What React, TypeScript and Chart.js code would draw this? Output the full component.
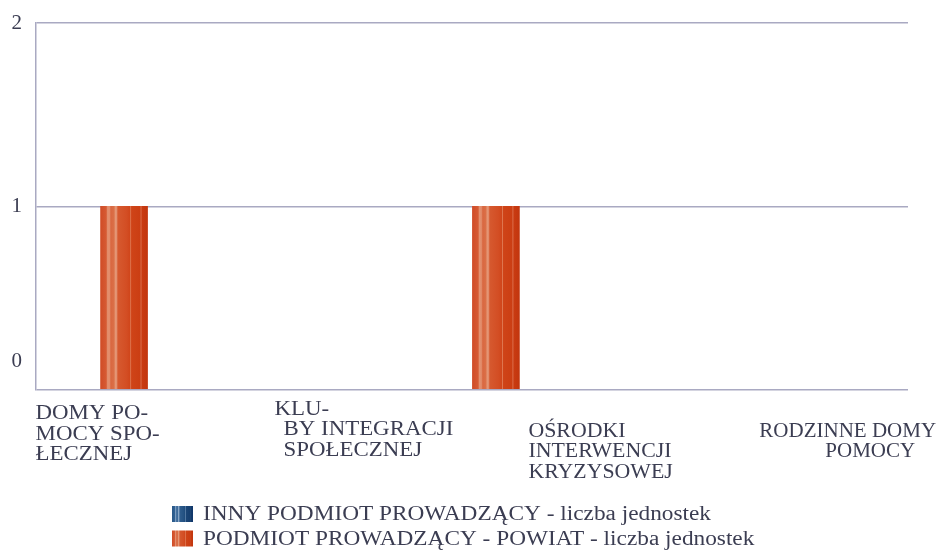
import React, { useEffect, useRef } from "react";
import { Chart, registerables } from "chart.js";

Chart.register(...registerables);

// ---------- data ----------
const categories = [
  "DOMY POMOCY SPOŁECZNEJ",
  "KLUBY INTEGRACJI SPOŁECZNEJ",
  "OŚRODKI INTERWENCJI KRYZYSOWEJ",
  "RODZINNE DOMY POMOCY",
];
const categoryLabelLines = [
  ["DOMY PO-", "MOCY SPO-", "ŁECZNEJ"],
  ["KLU-", "BY INTEGRACJI", "SPOŁECZNEJ"],
  ["OŚRODKI", "INTERWENCJI", "KRYZYSOWEJ"],
  ["RODZINNE DOMY", "POMOCY"],
];
const seriesInnyName = "INNY PODMIOT PROWADZĄCY - liczba jednostek";
const seriesPowiatName = "PODMIOT PROWADZĄCY - POWIAT - liczba jednostek";
const innyValues = [0, 0, 0, 0];
const powiatValues = [1, 0, 1, 0];
const yTickValues = [0, 1, 2];

// ---------- style ----------
const FONT_FAMILY = '"Liberation Serif", "Times New Roman", serif';
const TEXT_COLOR = "#3b3d52";
const GRID_COLOR = "#a9a9c2";
const BAR_W = 47;
const X_MIN = -0.6;
const X_MAX = 4.09;
const LABEL_FONT = 21;
const LABEL_LINE = 20.5;
const LABEL_LAYOUT = [
  { dy: 29.5, dx: [-112, -112, -112], sx: 1.09 },
  { dy: 25, dx: [-59, -50, -50], sx: 1.09 },
  { dy: 47, dx: [9, 9, 9], sx: 1.04 },
  { dy: 47, dx: [54, 120], sx: 1.0 },
];
const LEGEND = {
  x: 172,
  baseline: 520,
  step: 24.5,
  boxW: 21,
  boxH: 16,
  boxRise: 14,
  gap: 10,
  font: 20,
  stretch: 1.165,
};

type Stop = [number, string];
const ORANGE: Stop[] = [
  [0.0, "#d04c27"],
  [0.12, "#d65a33"],
  [0.15, "#e3906f"],
  [0.19, "#e28c6b"],
  [0.22, "#d96740"],
  [0.29, "#db7048"],
  [0.31, "#e69876"],
  [0.34, "#e29070"],
  [0.37, "#d6592f"],
  [0.55, "#d34e24"],
  [0.625, "#d0461b"],
  [0.64, "#de7650"],
  [0.66, "#cf4418"],
  [0.84, "#cb3e13"],
  [0.86, "#da6a46"],
  [0.885, "#c93b11"],
  [1.0, "#c2360e"],
];
const BLUE: Stop[] = [
  [0.0, "#2a5888"],
  [0.12, "#2f6092"],
  [0.15, "#7d9dc0"],
  [0.19, "#7898bb"],
  [0.22, "#3a6898"],
  [0.29, "#3f6c9b"],
  [0.31, "#8aa8c8"],
  [0.34, "#7f9ec0"],
  [0.37, "#2f5d8e"],
  [0.55, "#245283"],
  [0.625, "#1d4a7b"],
  [0.64, "#5a7fa8"],
  [0.66, "#1b4677"],
  [0.84, "#163f70"],
  [0.86, "#4c72a0"],
  [0.885, "#143c6c"],
  [1.0, "#10366a"],
];
const PALETTES = [ORANGE, BLUE]; // dataset 0 = powiat, dataset 1 = inny
const LEGEND_ORDER = [1, 0];

function stripes(ctx: CanvasRenderingContext2D, x0: number, w: number, stops: Stop[]) {
  const g = ctx.createLinearGradient(x0, 0, x0 + w, 0);
  stops.forEach(([o, c]) => g.addColorStop(o, c));
  return g;
}

function barColor(palette: Stop[]) {
  return (c: any) => {
    const xs = c.chart.scales && c.chart.scales.x;
    if (!xs || c.type !== "data" || c.dataIndex == null) return palette[9][1];
    if (c.raw && c.raw.y === 0) return "rgba(0,0,0,0)";
    const center = xs.getPixelForValue(c.dataIndex);
    if (!isFinite(center)) return palette[9][1];
    const left = c.datasetIndex === 0 ? center - BAR_W : center;
    return stripes(c.chart.ctx, left, BAR_W, palette);
  };
}

const textPlugin = {
  id: "customText",
  afterDraw(chart: any) {
    const ctx: CanvasRenderingContext2D = chart.ctx;
    const xs = chart.scales.x;
    const area = chart.chartArea;
    ctx.save();
    ctx.fillStyle = TEXT_COLOR;
    ctx.textAlign = "left";
    ctx.textBaseline = "alphabetic";
    ctx.font = `${LABEL_FONT}px ${FONT_FAMILY}`;
    categoryLabelLines.forEach((lines, i) => {
      const px = xs.getPixelForValue(i);
      const lay = LABEL_LAYOUT[i];
      lines.forEach((line, j) => {
        ctx.save();
        ctx.translate(px + lay.dx[j], area.bottom + lay.dy + j * LABEL_LINE);
        ctx.scale(lay.sx, 1);
        ctx.fillText(line, 0, 0);
        ctx.restore();
      });
    });
    LEGEND_ORDER.forEach((dsIndex, row) => {
      const ds = chart.data.datasets[dsIndex];
      const y = LEGEND.baseline + row * LEGEND.step;
      ctx.fillStyle = stripes(ctx, LEGEND.x, LEGEND.boxW, PALETTES[dsIndex]);
      ctx.fillRect(LEGEND.x, y - LEGEND.boxRise, LEGEND.boxW, LEGEND.boxH);
      ctx.fillStyle = TEXT_COLOR;
      ctx.font = `${LEGEND.font}px ${FONT_FAMILY}`;
      ctx.save();
      ctx.translate(LEGEND.x + LEGEND.boxW + LEGEND.gap, y);
      ctx.scale(LEGEND.stretch, 1);
      ctx.fillText(ds.label, 0, 0);
      ctx.restore();
    });
    ctx.restore();
  },
};

export default function App() {
  const ref = useRef<HTMLCanvasElement | null>(null);
  useEffect(() => {
    if (!ref.current) return;
    const chart = new Chart(ref.current, {
      type: "bar",
      data: {
        labels: categories,
        datasets: [
          {
            label: seriesPowiatName,
            data: powiatValues.map((v, i) => ({ x: i, y: v })),
            backgroundColor: barColor(ORANGE),
            borderWidth: 0,
            barThickness: BAR_W,
          },
          {
            label: seriesInnyName,
            data: innyValues.map((v, i) => ({ x: i, y: v })),
            backgroundColor: barColor(BLUE),
            borderWidth: 0,
            barThickness: BAR_W,
          },
        ],
      },
      plugins: [textPlugin],
      options: {
        animation: false,
        responsive: false,
        devicePixelRatio: 1,
        layout: { padding: { left: 0, right: 35, top: 23, bottom: 164.5 } },
        plugins: {
          legend: { display: false },
          tooltip: { enabled: false },
          title: { display: false },
        },
        scales: {
          x: {
            type: "linear",
            min: X_MIN,
            max: X_MAX,
            offset: false,
            ticks: { display: false },
            grid: { display: false, drawTicks: false },
            border: { display: false },
          },
          y: {
            min: 0,
            max: 2,
            afterBuildTicks: (s: any) => {
              s.ticks = yTickValues.map((v) => ({ value: v }));
            },
            afterFit: (s: any) => {
              s.width = 36;
            },
            ticks: {
              color: TEXT_COLOR,
              padding: 0,
              font: (c: any) => ({
                family: FONT_FAMILY,
                size: 21,
                lineHeight: c.tick && c.tick.value === 0 ? "57px" : 1.2,
              }),
              callback: (v: any) => (Number(v) === 0 ? ["0", ""] : String(v)),
            },
            grid: {
              color: GRID_COLOR,
              lineWidth: 1.5,
              drawTicks: true,
              tickLength: 14,
              tickColor: "rgba(0,0,0,0)",
            },
            border: { display: true, color: GRID_COLOR, width: 1.5 },
          },
        },
      },
    } as any);
    return () => chart.destroy();
  }, []);
  return (
    <div style={{ position: "fixed", left: 0, top: 0, width: 943, height: 554 }}>
      <canvas ref={ref} width={943} height={554} style={{ display: "block" }} />
    </div>
  );
}
